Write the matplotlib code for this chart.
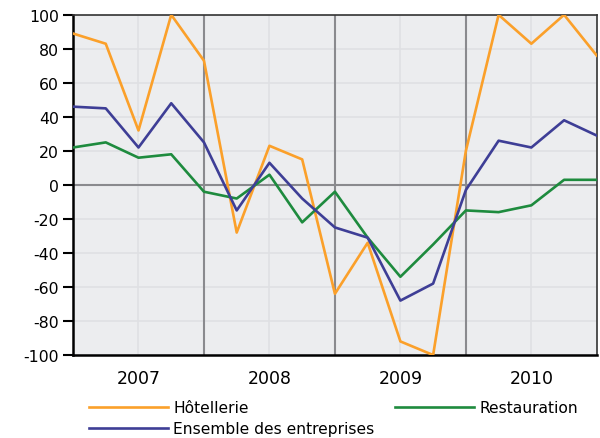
import matplotlib
matplotlib.use("Agg")
import matplotlib.pyplot as plt

# quarterly balances of opinion, 17 points from start of 2007 to end of 2010
quarters = list(range(17))
hotellerie = [89, 83, 32, 100, 73, -28, 23, 15, -64, -34, -92, -100, 20, 100, 83, 100, 76]
restauration = [22, 25, 16, 18, -4, -8, 6, -22, -4, -31, -54, -35, -15, -16, -12, 3, 3]
ensemble = [46, 45, 22, 48, 25, -15, 13, -8, -25, -31, -68, -58, -3, 26, 22, 38, 29]

years = ["2007", "2008", "2009", "2010"]
year_centers = [2, 6, 10, 14]
year_bounds = [4, 8, 12]
y_ticks = list(range(-100, 101, 20))

plt.rcParams['font.family'] = ['DejaVu Sans']

fig = plt.figure(figsize=(6, 4.39), dpi=100)
ax = fig.add_axes([0.1217, 0.189, 0.873, 0.775])
ax.set_facecolor('#ECEDEF')

# faint grid
for y in y_ticks:
    ax.axhline(y, color='#DFE0E3', lw=1.2, zorder=1)
for x in year_centers:
    ax.axvline(x, color='#DFE0E3', lw=1.2, zorder=1)
# strong lines
ax.axhline(0, color='#8A8A8E', lw=1.5, zorder=2)
for x in year_bounds:
    ax.axvline(x, color='#8A8A8E', lw=1.5, zorder=2)

l_h, = ax.plot(quarters, hotellerie, color='#FBA02A', lw=1.9, label='Hôtellerie', zorder=3)
l_r, = ax.plot(quarters, restauration, color='#1E8B3E', lw=1.9, label='Restauration', zorder=3)
l_e, = ax.plot(quarters, ensemble, color='#3E3E96', lw=1.9, label='Ensemble des entreprises', zorder=3)

ax.set_xlim(0, 16)
ax.set_ylim(-100, 100)
ax.set_yticks(y_ticks)
ax.set_yticklabels([str(v) for v in y_ticks], fontsize=11.3)
ax.set_xticks(year_centers)
ax.set_xticklabels(years, fontsize=12.5)
ax.tick_params(axis='x', length=0, pad=10)
ax.tick_params(axis='y', length=7, width=1.5, color='black', pad=3)

for side in ['left', 'bottom']:
    ax.spines[side].set_color('black')
    ax.spines[side].set_linewidth(1.8)
for side in ['top', 'right']:
    ax.spines[side].set_color('#333333')
    ax.spines[side].set_linewidth(1.2)

fig.legend([l_h, l_e, l_r], ['Hôtellerie', 'Ensemble des entreprises', 'Restauration'],
           ncol=2, loc='upper left', bbox_to_anchor=(0.148, 0.086), frameon=False,
           fontsize=11.2, handlelength=5.1, handletextpad=0.33, columnspacing=1.3,
           labelspacing=0.39, borderaxespad=0, borderpad=0)

fig.savefig('out.png', dpi=100)
